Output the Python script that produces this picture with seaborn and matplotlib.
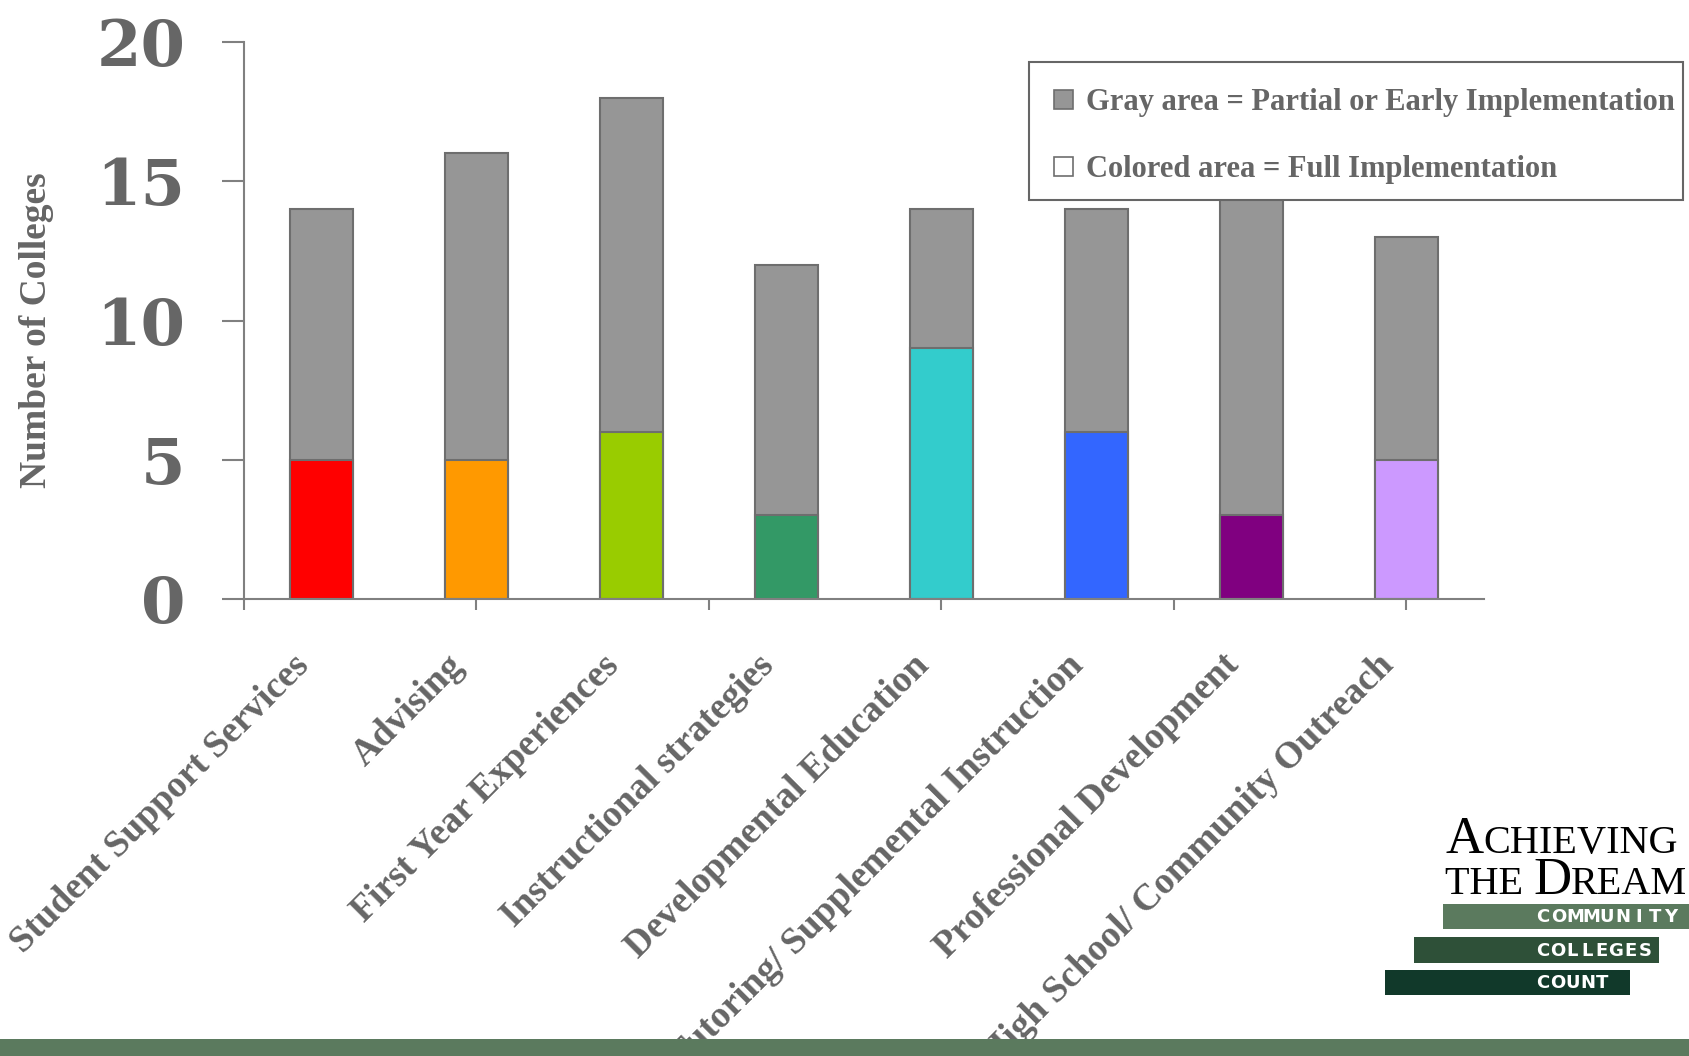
import numpy as np
import pandas as pd
import matplotlib.pyplot as plt
import seaborn as sns
from matplotlib.patches import Patch, Rectangle
from matplotlib.transforms import ScaledTranslation
from matplotlib import font_manager

# chart data
categories = ["Student Support Services", "Advising", "First Year Experiences",
              "Instructional strategies", "Developmental Education",
              "Tutoring/ Supplemental Instruction", "Professional Development",
              "High School/ Community Outreach"]
total_colleges = [14, 16, 18, 12, 14, 14, 15, 13]
full_implementation = [5, 5, 6, 3, 9, 6, 3, 5]
full_colors = ["#FF0000", "#FF9900", "#99CC00", "#339966",
               "#33CCCC", "#3366FF", "#800080", "#CC99FF"]
y_ticks = [0, 5, 10, 15, 20]
x_marks = [-0.5, 1, 2.5, 4, 5.5, 7]
legend_labels = ["Gray area = Partial or Early Implementation",
                 "Colored area = Full Implementation"]

gray = "#969696"
edge = "#6e6e6e"
text_gray = "#666666"

df = pd.DataFrame({"category": categories, "total": total_colleges,
                   "full": full_implementation})

sns.set_style("white")
plt.rcParams['font.family'] = ['Liberation Serif', 'DejaVu Serif']
plt.rcParams['font.weight'] = 'bold'

W, H = 1689, 1056
fig = plt.figure(figsize=(W / 100, H / 100), dpi=100)
ax = fig.add_axes([244 / W, 1 - 599 / H, 1240 / W, 557 / H])

# gray = all implementing colleges, colored = full implementation on top
sns.barplot(data=df, x="category", y="total", color=gray, width=0.41,
            saturation=1, edgecolor=edge, linewidth=1.5, ax=ax)
sns.barplot(data=df, x="category", y="full", hue="category", palette=full_colors,
            legend=False, width=0.41, saturation=1, edgecolor=edge,
            linewidth=1.5, ax=ax)

ax.set_xlim(-0.5, 7.5)
ax.set_ylim(0, 20)
sns.despine(ax=ax)
for s in ["left", "bottom"]:
    ax.spines[s].set_color("#808080")
    ax.spines[s].set_linewidth(1.5)

# y axis
ax.set_yticks(y_ticks)
ax.set_yticklabels([str(v) for v in y_ticks], family="DejaVu Serif",
                   fontweight="bold", fontsize=46, color=text_gray)
ax.tick_params(axis="y", length=16, width=1.5, color="#808080", pad=26,
               left=True, direction="out")
ax.set_ylabel("Number of Colleges", fontsize=27, color=text_gray,
              fontweight="bold", va="center")
ax.yaxis.set_label_coords(-0.167, 0.483)

# x axis: labels under the bars, tick marks between every other pair
ax.set_xlabel("")
ax.set_xticks(range(len(categories)))
ax.set_xticklabels(categories, rotation=45, ha="right", va="center",
                   rotation_mode="anchor", fontsize=27, color=text_gray)
ax.tick_params(axis="x", which="major", length=0, pad=44)
shift = ScaledTranslation(-18 / 100, 0, fig.dpi_scale_trans)
for lab in ax.get_xticklabels():
    lab.set_transform(lab.get_transform() + shift)
ax.xaxis.remove_overlapping_locs = False
ax.set_xticks(x_marks, minor=True)
ax.tick_params(axis="x", which="minor", length=8, width=1.5, color="#808080",
               bottom=True, direction="out")

# legend: white box drawn by hand so its padding matches, entries on top
ax.add_patch(Rectangle((1029 / W, 1 - 200 / H), 654 / W, 138 / H,
                       transform=fig.transFigure, facecolor="white",
                       edgecolor=text_gray, linewidth=1.5, clip_on=False,
                       zorder=4.5))
handles = [Patch(facecolor=gray, edgecolor=edge, linewidth=1.2),
           Patch(facecolor="white", edgecolor=edge, linewidth=1.2)]
leg = ax.legend(handles, legend_labels, loc="upper left",
                bbox_to_anchor=(1029 / W, 1 - 64 / H, 654 / W, 0.001),
                bbox_transform=fig.transFigure, mode="expand", borderaxespad=0,
                fontsize=22, handlelength=0.6, handleheight=0.6,
                handletextpad=0.45, labelspacing=1.24, borderpad=0.83,
                frameon=False)
for t in leg.get_texts():
    t.set_color(text_gray)

# logo
def ftx(x, y, s, **kw):
    return fig.text(x / W, 1 - y / H, s, **kw)

a = ftx(1446, 853, "A", fontsize=38, fontweight="normal", color="black", va="baseline")
fig.canvas.draw()
bb = a.get_window_extent()
ftx(bb.x1 - 1, 853, "CHIEVING", fontsize=29, fontweight="normal", color="black", va="baseline")
t1 = ftx(1445, 894, "THE ", fontsize=29, fontweight="normal", color="black", va="baseline")
fig.canvas.draw()
bb = t1.get_window_extent()
d = ftx(bb.x1, 894, "D", fontsize=38, fontweight="normal", color="black", va="baseline")
fig.canvas.draw()
bb = d.get_window_extent()
ftx(bb.x1, 894, "REAM", fontsize=29, fontweight="normal", color="black", va="baseline")

installed = {f.name for f in font_manager.fontManager.ttflist}
narrow = "Liberation Sans Narrow" if "Liberation Sans Narrow" in installed else "DejaVu Sans"
logo_size = 17 if narrow != "DejaVu Sans" else 13
logo_bars = [(1443, 904, 246, 25, "#5B7A5E", "COMMUNITY", 16.0),
             (1414, 937, 245, 26, "#2E5038", "COLLEGES", 14.6),
             (1385, 970, 245, 25, "#11392A", "COUNT", 14.8)]
for x0, y0, w, h, c, word, pitch in logo_bars:
    fig.patches.append(Rectangle((x0 / W, 1 - (y0 + h) / H), w / W, h / H,
                                 transform=fig.transFigure, facecolor=c,
                                 edgecolor="none", zorder=3))
    for i, ch in enumerate(word):
        ftx(1543 + pitch * i, y0 + h / 2 + 1, ch, fontsize=logo_size,
            family=narrow, fontweight="bold", color="white", ha="center",
            va="center", zorder=4)

# bottom band
fig.patches.append(Rectangle((0, 0), 1, 17 / H, transform=fig.transFigure,
                             facecolor="#5B7A5E", edgecolor="none", zorder=10))

fig.savefig("out.png", dpi=100)
